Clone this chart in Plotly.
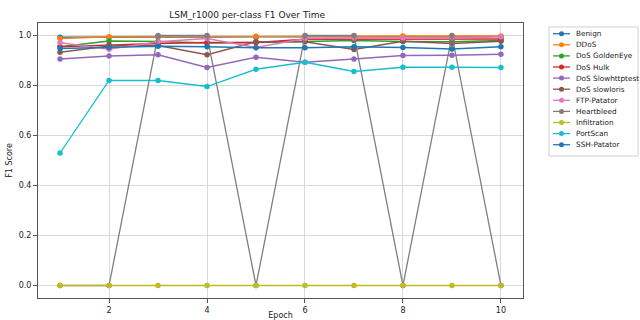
import plotly.graph_objects as go

epochs = [1, 2, 3, 4, 5, 6, 7, 8, 9, 10]

benign = [0.993, 0.992, 0.994, 0.994, 0.993, 0.995, 0.995, 0.994, 0.995, 0.996]
ddos = [0.988, 0.995, 0.996, 0.997, 0.997, 0.998, 0.998, 0.998, 0.998, 0.998]
dos_goldeneye = [0.955, 0.978, 0.976, 0.970, 0.972, 0.976, 0.980, 0.976, 0.975, 0.980]
dos_hulk = [0.955, 0.962, 0.968, 0.972, 0.972, 0.985, 0.986, 0.985, 0.985, 0.986]
dos_slowhttptest = [0.906, 0.918, 0.923, 0.872, 0.913, 0.893, 0.906, 0.920, 0.921, 0.925]
dos_slowloris = [0.933, 0.958, 0.960, 0.923, 0.975, 0.975, 0.944, 0.977, 0.968, 0.977]
ftp_patator = [0.971, 0.945, 0.975, 0.988, 0.952, 0.988, 0.990, 0.990, 0.990, 0.995]
heartbleed = [0.0, 0.0, 1.0, 1.0, 0.0, 1.0, 1.0, 0.0, 1.0, 0.0]
infiltration = [0.0, 0.0, 0.0, 0.0, 0.0, 0.0, 0.0, 0.0, 0.0, 0.0]
portscan = [0.530, 0.820, 0.820, 0.796, 0.865, 0.893, 0.856, 0.873, 0.873, 0.872]
ssh_patator = [0.948, 0.952, 0.957, 0.955, 0.951, 0.951, 0.955, 0.952, 0.946, 0.955]

series = [
    ("Benign", benign, "#1f77b4"),
    ("DDoS", ddos, "#ff7f0e"),
    ("DoS GoldenEye", dos_goldeneye, "#2ca02c"),
    ("DoS Hulk", dos_hulk, "#d62728"),
    ("DoS Slowhttptest", dos_slowhttptest, "#9467bd"),
    ("DoS slowloris", dos_slowloris, "#8c564b"),
    ("FTP-Patator", ftp_patator, "#e377c2"),
    ("Heartbleed", heartbleed, "#7f7f7f"),
    ("Infiltration", infiltration, "#bcbd22"),
    ("PortScan", portscan, "#17becf"),
    ("SSH-Patator", ssh_patator, "#1f77b4"),
]

W, H = 640, 320
ML, MR, MT, MB = 38, 117, 23, 22
PW, PH = W - ML - MR, H - MT - MB


def px_x(p):
    # pixel column -> paper x
    return (p - ML) / PW


def px_y(p):
    # pixel row -> paper y
    return (H - MB - p) / PH


fig = go.Figure()
for name, vals, color in series:
    fig.add_trace(go.Scatter(
        x=epochs, y=vals, name=name, mode="lines+markers",
        line=dict(color=color, width=1.3),
        marker=dict(color=color, size=5.5),
        showlegend=False,
    ))

# compact legend box drawn with shapes and annotations
shapes = []
annotations = []
lx0, ly0, lx1, ly1 = 549, 27, 638, 156
shapes.append(dict(type="rect", xref="paper", yref="paper",
                   x0=px_x(lx0), x1=px_x(lx1), y0=px_y(ly1), y1=px_y(ly0),
                   line=dict(color="#d0d0d0", width=1), fillcolor="white"))
row0, step = 33.7, 11.1
for i, (name, _, color) in enumerate(series):
    cy = row0 + i * step
    shapes.append(dict(type="line", xref="paper", yref="paper",
                       x0=px_x(553), x1=px_x(570), y0=px_y(cy), y1=px_y(cy),
                       line=dict(color=color, width=1.3)))
    r = 2.5
    shapes.append(dict(type="circle", xref="paper", yref="paper",
                       x0=px_x(561.5 - r), x1=px_x(561.5 + r),
                       y0=px_y(cy + r), y1=px_y(cy - r),
                       line=dict(color=color, width=0), fillcolor=color))
    annotations.append(dict(text=name, xref="paper", yref="paper",
                            x=px_x(574), y=px_y(cy), xanchor="left", yanchor="middle",
                            showarrow=False, font=dict(size=7.3, color="#222222")))

axis_common = dict(
    showgrid=True, gridcolor="#d9d9d9", gridwidth=1,
    showline=True, linecolor="#555555", linewidth=1, mirror=True,
    ticks="outside", ticklen=4, tickcolor="#555555",
    tickfont=dict(size=8, color="#222222"), zeroline=False,
)

fig.update_layout(
    width=W, height=H,
    margin=dict(l=ML, r=MR, t=MT, b=MB, autoexpand=False),
    paper_bgcolor="white", plot_bgcolor="white",
    font=dict(family="DejaVu Sans", color="#222222"),
    title=dict(text="LSM_r1000 per-class F1 Over Time", x=px_x(276) * PW / W + ML / W,
               xanchor="center", xref="paper",
               y=1 - 15 / H, yanchor="middle", font=dict(size=9, color="#222222")),
    xaxis=dict(range=[0.55, 10.45], tickvals=[2, 4, 6, 8, 10],
               title=dict(text="Epoch", font=dict(size=8), standoff=2), **axis_common),
    yaxis=dict(range=[-0.05, 1.05], tickvals=[0.0, 0.2, 0.4, 0.6, 0.8, 1.0],
               ticktext=["0.0", "0.2", "0.4", "0.6", "0.8", "1.0"],
               title=dict(text="F1 Score", font=dict(size=8), standoff=4), **axis_common),
    shapes=shapes,
    annotations=annotations,
    showlegend=False,
)

fig.write_html("out.html")
